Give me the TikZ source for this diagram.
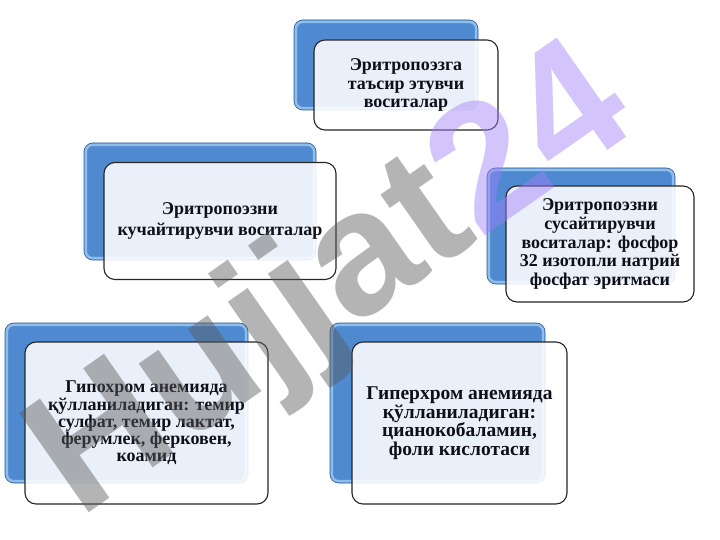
\documentclass[tikz,border=0pt]{standalone}
\usepackage{fontspec}
\setmainfont{Liberation Serif}
\newfontfamily\wmfont{Liberation Sans}
\usetikzlibrary{calc,backgrounds}

\definecolor{bluebase}{RGB}{79,138,208}
\definecolor{blueedge}{RGB}{55,96,150}
\definecolor{bluehi}{RGB}{155,200,242}
\definecolor{linegray}{RGB}{135,145,160}
\definecolor{textdark}{RGB}{15,15,25}
\definecolor{wmgray}{RGB}{90,90,90}
\definecolor{wmpurple}{RGB}{160,125,250}

\tikzset{
 bluebox/.style={rectangle, rounded corners=9pt, draw=blueedge, line width=0.8pt, fill=bluebase, inner sep=0pt},
 bevel/.style={draw=bluehi, line width=2.5pt, rounded corners=7pt, draw opacity=0.85},
 whitebox/.style={rectangle, rounded corners=11pt, draw=black!85, line width=1.1pt, fill=white, fill opacity=0.88, text opacity=1, text=textdark, align=center, font=\bfseries\fontsize{18}{19}\selectfont, inner sep=4pt},
 conn/.style={draw=linegray, line width=1.3pt},
 wm/.style={rotate=35, font=\wmfont\bfseries\fontsize{176}{176}\selectfont, text opacity=0.45, inner sep=0pt},
}

\begin{document}
\begin{tikzpicture}[x=1pt,y=-1pt]
\useasboundingbox (0,0) rectangle (720,540);
\fill[white] (0,0) rectangle (720,540);

% blue (back) boxes
\node[bluebox, minimum width=184pt, minimum height=90pt] (b1) at (386,65) {};
\node[bluebox, minimum width=232pt, minimum height=117pt] (b2) at (200,201.5) {};
\node[bluebox, minimum width=188pt, minimum height=116pt] (b3) at (581,226) {};
\node[bluebox, minimum width=243pt, minimum height=160pt] (b4) at (126.5,403) {};
\node[bluebox, minimum width=215pt, minimum height=160pt] (b5) at (437.5,403) {};
\foreach \b in {b1,b2,b3,b4,b5}{
  \draw[bevel] ($(\b.north west)+(2.2,2.2)$) rectangle ($(\b.south east)+(-2.2,-2.2)$);
}

% connectors
\begin{scope}[on background layer]
\draw[conn] (b1.south) -- ++(0,16) -| (b2.north);
\draw[conn] (b1.south) -- ++(0,41) -| (b3.north);
\draw[conn] (b2.south) -- ++(0,47) -| (b4.north);
\draw[conn] (b2.south) -- ++(0,47) -| (b5.north);
\end{scope}

% white (front) boxes
\node[whitebox, minimum width=184pt, minimum height=90pt, font=\bfseries\fontsize{18}{18.5}\selectfont] (w1) at (406,85)
  {Эритропоэзга\\таъсир этувчи\\воситалар};
\node[whitebox, minimum width=232pt, minimum height=117pt, font=\bfseries\fontsize{18}{20.5}\selectfont] (w2) at (220,221)
  {Эритропоэзни\\кучайтирувчи воситалар};
\node[whitebox, minimum width=188pt, minimum height=116pt, font=\bfseries\fontsize{18}{18.7}\selectfont] (w3) at (600,244)
  {Эритропоэзни\\сусайтирувчи\\воситалар: фосфор\\32 изотопли натрий\\фосфат эритмаси};
\node[whitebox, minimum width=243pt, minimum height=162pt, font=\bfseries\fontsize{18}{17.3}\selectfont] (w4) at (146.5,423)
  {Гипохром анемияда\\қўлланиладиган: темир\\сулфат, темир лактат,\\ферумлек, ферковен,\\коамид};
\node[whitebox, minimum width=215pt, minimum height=162pt, font=\bfseries\fontsize{19.5}{18.5}\selectfont] (w5) at (459.5,423)
  {Гиперхром анемияда\\қўлланиладиган:\\цианокобаламин,\\фоли кислотаси};

% watermark
\node[wm] (mark) at (334,286) {\textcolor{wmgray}{Hujjat}\textcolor{wmpurple}{24}};
\end{tikzpicture}
\end{document}
